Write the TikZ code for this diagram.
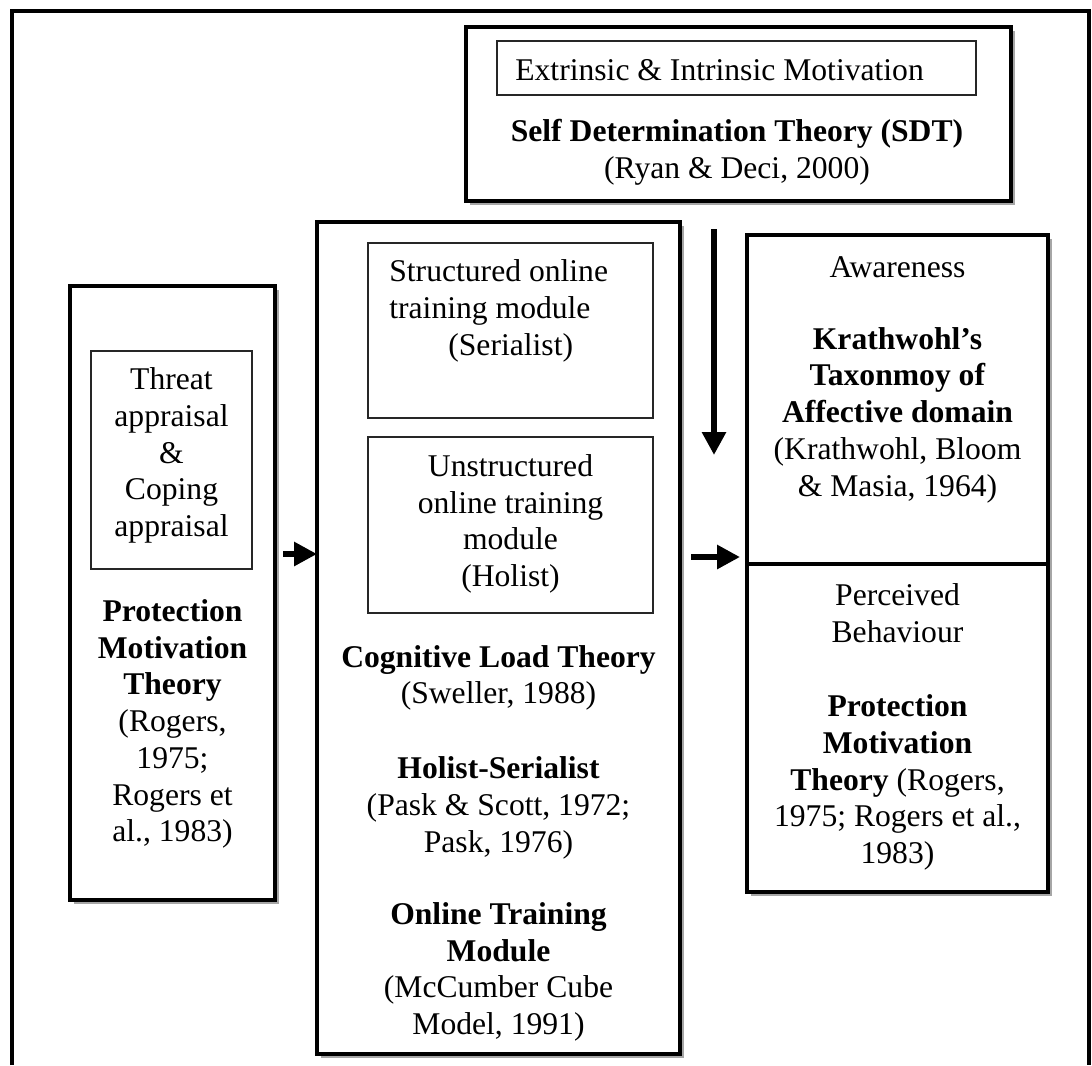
\documentclass[tikz,border=0pt]{standalone}
\usepackage{fontspec}
\setmainfont{Liberation Serif}
\usepackage{tikz}
\usetikzlibrary{shadows}
\usetikzlibrary{positioning}
\usetikzlibrary{arrows.meta,shapes}
\usetikzlibrary{calc}
\tikzstyle{box}=[rectangle,draw=black,fill=white,line width=2.4pt,inner sep=0pt,outer sep=0pt,drop shadow={shadow xshift=2.2pt,shadow yshift=-2.2pt,opacity=0.35,fill=black}]
\tikzstyle{thinbox}=[rectangle,draw=black!85,line width=0.7pt,inner sep=0pt,outer sep=0pt]
\tikzstyle{frame}=[draw,line width=2.6pt]
\tikzstyle{bigarrow}=[draw,line width=3.4pt,-{Triangle[length=0.46cm,width=0.46cm]}]
\tikzset{txt/.style={align=center,inner sep=0pt,font=\fontsize{18pt}{20.9pt}\selectfont}}

\begin{document}
\begin{tikzpicture}[x=0.02cm,y=-0.02cm]
	\useasboundingbox (0,0) rectangle (1092,1065);

	\def\xl{172.5};
	\def\xm{498.5};
	\def\xr{897.5};

%frame
	\path[frame] (12,1065) -- (12,11) -- (1089,11) -- (1089,1065);

%boxes
	\node[box, minimum width=10.9cm, minimum height=3.48cm] (SDT) at (738.5,114) {};
	\node[box, minimum width=4.1cm, minimum height=12.28cm] (PMT) at (\xl,593) {};
	\node[box, minimum width=7.26cm, minimum height=16.64cm] (CLT) at (\xm,638) {};
	\node[box, minimum width=6.02cm, minimum height=6.58cm] (KT) at (\xr,399.5) {};
	\node[box, minimum width=6.02cm, minimum height=6.56cm, below=0pt of KT] (PB) {};

%inner boxes
	\foreach \pos/\name/\w/\h in {{(736.5,68)/EI/9.58/1.08}, {(171.5,460)/TC/3.22/4.36}, {(510.5,330.5)/SO/5.7/3.5}, {(510.5,525)/UO/5.7/3.52}}
		\node[thinbox, minimum width=\w cm, minimum height=\h cm] (\name) at \pos {};

%labels
	\node[txt, anchor=west] (EIl) at (515,70) {Extrinsic \& Intrinsic Motivation};
	\node[txt, align=left, anchor=west] (SOl) at (389,311) {Structured online\\training module\\\hspace*{1.18cm}(Serialist)};

	\foreach \pos/\name/\label in {{(737,152.5)/SDTl/{\textbf{Self Determination Theory (SDT)}\\(Ryan \& Deci, 2000)}},
		{(171.5,455.5)/TCl/{Threat\\appraisal\\\&\\Coping\\appraisal}},
		{(\xl,724)/PMTl/{\textbf{Protection}\\\textbf{Motivation}\\\textbf{Theory}\\(Rogers,\\1975;\\Rogers et\\al., 1983)}},
		{(510.5,524)/UOl/{Unstructured\\online training\\module\\(Holist)}},
		{(\xm,678)/CLTl/{\textbf{Cognitive Load Theory}\\(Sweller, 1988)}},
		{(\xm,808)/HSl/{\textbf{Holist-Serialist}\\(Pask \& Scott, 1972;\\Pask, 1976)}},
		{(\xm,972)/OTMl/{\textbf{Online Training}\\\textbf{Module}\\(McCumber Cube\\Model, 1991)}},
		{(\xr,267)/KTa/{Awareness}},
		{(\xr,415)/KTl/{\textbf{Krathwohl’s}\\\textbf{Taxonmoy of}\\\textbf{Affective domain}\\(Krathwohl, Bloom\\\& Masia, 1964)}},
		{(\xr,613.5)/PBa/{Perceived\\Behaviour}},
		{(\xr,782.5)/PBl/{\textbf{Protection}\\\textbf{Motivation}\\\textbf{Theory} (Rogers,\\1975; Rogers et al.,\\1983)}}}
		\node[txt] (\name) at \pos {\label};

%arrows
	\coordinate (d1) at (714,229);
	\coordinate (d2) at (714,455);
	\coordinate (a1) at (283,554);
	\coordinate (a2) at (691,557);
	\path[bigarrow] (d1) -- (d2);
	\path[bigarrow] (a1) -- (a1 -| CLT.west);
	\path[bigarrow, shorten >=0.14cm] (a2) -- (a2 -| KT.west);

\end{tikzpicture}
\end{document}
